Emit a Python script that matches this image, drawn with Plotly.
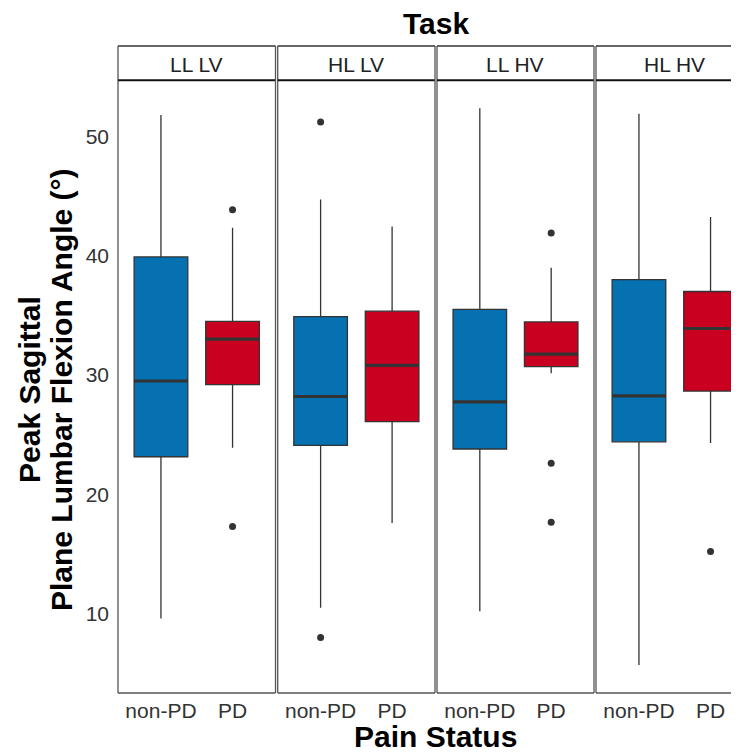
import plotly.graph_objects as go

tasks = ["LL LV", "HL LV", "LL HV", "HL HV"]
status = ["non-PD", "PD"]

nonpd_lower = [9.6, 10.5, 10.2, 5.7]
nonpd_q1 = [23.15, 24.1, 23.8, 24.4]
nonpd_median = [29.5, 28.2, 27.75, 28.25]
nonpd_q3 = [39.9, 34.9, 35.5, 38.0]
nonpd_upper = [51.8, 44.7, 52.35, 51.9]
nonpd_outliers = [[], [51.2, 8.0], [], []]

pd_lower = [23.9, 17.6, 30.15, 24.3]
pd_q1 = [29.2, 26.1, 30.7, 28.65]
pd_median = [33.0, 30.8, 31.75, 33.9]
pd_q3 = [34.5, 35.35, 34.45, 37.0]
pd_upper = [42.35, 42.45, 39.0, 43.25]
pd_outliers = [[43.85, 17.3], [], [41.9, 22.6, 17.65], [15.2]]

y_ticks = [10, 20, 30, 40, 50]
y_range = [3.35, 54.7]

colors = {"non-PD": "#0571B0", "PD": "#CA0020"}
FONT = "Liberation Sans"

# page body margin offset (figure sits at 8,8 in the page)
OFF = 8
PAGE_W, PAGE_H = 739, 753
W, H = PAGE_W - OFF, PAGE_H - OFF
ML, MR, MT, MB = 118 - OFF, 0, 46 - OFF, PAGE_H - 693
PW = W - ML - MR
PH = H - MT - MB

def px_x(p):
    return (p - OFF - ML) / PW

def px_y(p):
    return (H - MB - (p - OFF)) / PH

# panel pixel extents in the page (last panel is clipped by the page edge)
panel_px = [(118, 275.5), (277.7, 435), (437, 594), (596, 753.5)]
panel_top_px = 80.3
ydom_top = px_y(panel_top_px)

series = {
    "non-PD": (nonpd_lower, nonpd_q1, nonpd_median, nonpd_q3, nonpd_upper, nonpd_outliers),
    "PD": (pd_lower, pd_q1, pd_median, pd_q3, pd_upper, pd_outliers),
}

fig = go.Figure()
box_w = 0.75
for i, task in enumerate(tasks):
    ax = "" if i == 0 else str(i + 1)
    for j, st in enumerate(status):
        lo, q1, med, q3, up, outl = series[st]
        fig.add_trace(go.Box(
            x=[j], q1=[q1[i]], median=[med[i]], q3=[q3[i]],
            lowerfence=[lo[i]], upperfence=[up[i]],
            fillcolor=colors[st], line=dict(color="#333333", width=1.3),
            whiskerwidth=0, width=box_w, boxpoints=False,
            xaxis="x" + ax, yaxis="y" + ax, showlegend=False, name=st,
        ))
        fig.add_trace(go.Scatter(
            x=[j - box_w / 2, j + box_w / 2], y=[med[i], med[i]], mode="lines",
            line=dict(color="#333333", width=3.2),
            xaxis="x" + ax, yaxis="y" + ax, showlegend=False, hoverinfo="skip",
        ))
        if outl[i]:
            fig.add_trace(go.Scatter(
                x=[j] * len(outl[i]), y=outl[i], mode="markers",
                marker=dict(color="#333333", size=7),
                xaxis="x" + ax, yaxis="y" + ax, showlegend=False,
            ))

layout = dict(
    width=W, height=H,
    margin=dict(l=ML, r=MR, t=MT, b=MB, pad=0),
    paper_bgcolor="white", plot_bgcolor="white",
    font=dict(family=FONT, color="#333333"),
    showlegend=False,
)
shapes = []
annotations = []
for i, task in enumerate(tasks):
    ax = "" if i == 0 else str(i + 1)
    x0p, x1p = panel_px[i]
    full_w = x1p - x0p
    vis_x1 = min(x1p, PAGE_W)
    xr = [-0.6, -0.6 + 2.2 * (vis_x1 - x0p) / full_w]
    layout["xaxis" + ax] = dict(
        domain=[px_x(x0p), min(px_x(x1p), 1.0)], range=xr, anchor="y" + ax,
        tickvals=[0, 1], ticktext=status, showgrid=False, zeroline=False,
        ticks="", tickfont=dict(size=21, color="#333333", family=FONT),
        showline=False, fixedrange=True, ticklabelstandoff=3,
    )
    layout["yaxis" + ax] = dict(
        domain=[0, ydom_top], range=y_range, anchor="x" + ax,
        tickvals=y_ticks, showgrid=False, zeroline=False, ticks="",
        showticklabels=(i == 0), tickfont=dict(size=21, color="#333333", family=FONT),
        showline=False, ticklabelstandoff=8,
    )
    xref = "x" + ax + " domain"
    border = dict(color="#555555", width=1.3)
    shapes.append(dict(type="line", xref=xref, yref="paper", x0=0, x1=0, y0=0, y1=1, line=border))
    shapes.append(dict(type="line", xref=xref, yref="paper", x0=0, x1=1, y0=0, y1=0, line=border))
    shapes.append(dict(type="line", xref=xref, yref="paper", x0=0, x1=1, y0=1, y1=1,
                       line=dict(color="#333333", width=1.3)))
    shapes.append(dict(type="line", xref=xref, yref="paper", x0=0, x1=1, y0=ydom_top, y1=ydom_top,
                       line=dict(color="#111111", width=2)))
    if x1p <= PAGE_W:
        shapes.append(dict(type="line", xref=xref, yref="paper", x0=1, x1=1, y0=0, y1=1, line=border))
    annotations.append(dict(
        text=task, xref="x" + ax, yref="paper", x=0.5, y=px_y(64.5),
        xanchor="center", yanchor="middle", showarrow=False,
        font=dict(size=21, color="#222222", family=FONT),
    ))

annotations.append(dict(
    text="<b>Task</b>", xref="paper", yref="paper", x=px_x(435.5), y=px_y(23.9),
    xanchor="center", yanchor="middle", showarrow=False,
    font=dict(size=30, color="#000000", family=FONT),
))
annotations.append(dict(
    text="<b>Pain Status</b>", xref="paper", yref="paper", x=px_x(435.5), y=px_y(736.5),
    xanchor="center", yanchor="middle", showarrow=False,
    font=dict(size=30, color="#000000", family=FONT),
))
ycenter = px_y(390)
annotations.append(dict(
    text="<b>Peak Sagittal</b>", xref="paper", yref="paper", x=px_x(29), y=ycenter,
    xanchor="center", yanchor="middle", showarrow=False, textangle=-90,
    font=dict(size=30, color="#000000", family=FONT),
))
annotations.append(dict(
    text="<b>Plane Lumbar Flexion Angle (°)</b>", xref="paper", yref="paper", x=px_x(61), y=ycenter,
    xanchor="center", yanchor="middle", showarrow=False, textangle=-90,
    font=dict(size=30, color="#000000", family=FONT),
))
layout["shapes"] = shapes
layout["annotations"] = annotations
fig.update_layout(**layout)
fig.write_html("out.html")
